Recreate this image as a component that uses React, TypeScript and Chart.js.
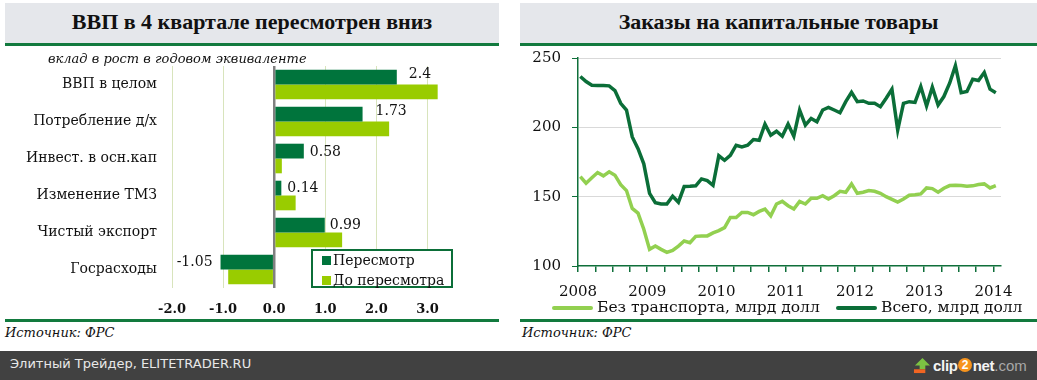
import React, { useEffect, useRef } from "react";
import { Chart, registerables } from "chart.js";

Chart.register(...registerables);

// ---------- Left chart: GDP contributions ----------
const gdpCategories = [
  "ВВП в целом",
  "Потребление д/х",
  "Инвест. в осн.кап",
  "Изменение ТМЗ",
  "Чистый экспорт",
  "Госрасходы",
];
const revisedContribution = [2.4, 1.73, 0.58, 0.14, 0.99, -1.05];
const previousContribution = [3.2, 2.25, 0.15, 0.42, 1.33, -0.9];
const revisedLabels = ["2.4", "1.73", "0.58", "0.14", "0.99", "-1.05"];
const gdpAxisTicks = [-2, -1, 0, 1, 2, 3];
const gdpSeries = ["Пересмотр", "До пересмотра"];

// ---------- Right chart: capital goods orders (monthly, Jan 2008 – Jan 2014) ----------
const orderYears = [2008, 2009, 2010, 2011, 2012, 2013, 2014];
const totalOrders = [
  236.7, 233, 230.4, 230.1, 230.1, 229.9, 226.5, 217.3, 212.5, 193.1, 184.6, 173.7,
  152.4, 145.7, 144.7, 144.7, 150.3, 146, 157.3, 157.5, 157.8, 162.8, 161.6, 158.2,
  179.5, 176.2, 179.8, 187.1, 185.8, 187.1, 191.2, 190.7, 202.3, 194.3, 197.2, 193.6,
  202.3, 193.6, 212.5, 201.6, 206.4, 204, 212.5, 214.4, 212.5, 210.5, 218.5, 225.3,
  218.5, 219, 217.3, 217.3, 214.9, 221, 227.5, 198, 217.3, 218.5, 218, 229.4,
  215.4, 229, 216.1, 222.2, 231.8, 244.4, 225, 225.8, 234.7, 233.8, 239.6, 227.5,
  225,
];
const coreOrders = [
  164.5, 159.7, 163.6, 167.4, 165, 167.9, 165.5, 158.7, 154.4, 141.5, 138.1, 126.5,
  112, 114.4, 112, 109.8, 111.3, 114.4, 118, 116.8, 121.4, 121.7, 121.7, 123.9,
  125.5, 127.7, 135, 135, 138.6, 138.6, 137, 139.4, 141.1, 136.2, 144.7, 146.6,
  143.5, 141.1, 146.6, 144.7, 148.8, 148.8, 150.7, 148.3, 150.7, 153.9, 153.2, 159.2,
  152.4, 153.2, 154.4, 153.9, 152.4, 150, 148.1, 146.1, 148.3, 151, 151.4, 152,
  156.3, 155.8, 153.2, 156.1, 158, 158.2, 158, 157.5, 157.8, 158.7, 159.2, 156.3,
  158,
];
const orderSeries = ["Без транспорта, млрд долл", "Всего, млрд долл"];
const orderAxisTicks = [100, 150, 200, 250];

// ---------- styles ----------
const BAR_DARK = "#00743c";
const BAR_LIGHT = "#99cc00";
const LINE_DARK = "#0b6e38";
const LINE_LIGHT = "#92d050";
const AXIS_GREEN = "#0f6f3a";
const SERIF = '"DejaVu Serif", serif';
const HEAD_SERIF = '"Liberation Serif", serif';
const LABEL_NUDGE: [number, number][] = [[12, -3], [13, -3], [6, 1], [6, 0], [5, 0], [8, 0]];
const POINT_OFFSET = 0.4; // months: where a monthly observation sits after its tick

function GdpChart() {
  const ref = useRef<HTMLCanvasElement | null>(null);
  useEffect(() => {
    if (!ref.current) return;
    const labelPlugin = {
      id: "barLabels",
      afterDatasetsDraw(chart: any) {
        const meta = chart.getDatasetMeta(0);
        const ctx = chart.ctx;
        ctx.save();
        ctx.font = `14px ${SERIF}`;
        ctx.fillStyle = "#111";
        ctx.textBaseline = "middle";
        meta.data.forEach((bar: any, i: number) => {
          const v = revisedContribution[i];
          const [dx, dy] = LABEL_NUDGE[i];
          if (v >= 0) {
            ctx.textAlign = "left";
            ctx.fillText(revisedLabels[i], bar.x + dx, bar.y + dy);
          } else {
            ctx.textAlign = "right";
            ctx.fillText(revisedLabels[i], bar.x - dx, bar.y + dy);
          }
        });
        ctx.restore();
      },
    };
    const chart = new Chart(ref.current, {
      type: "bar",
      data: {
        labels: gdpCategories,
        datasets: [
          { label: gdpSeries[0], data: revisedContribution, backgroundColor: BAR_DARK },
          { label: gdpSeries[1], data: previousContribution, backgroundColor: BAR_LIGHT },
        ],
      },
      options: {
        indexAxis: "y",
        responsive: false,
        animation: false,
        layout: { padding: { top: 16, right: 46, left: 0, bottom: 0 } },
        datasets: { bar: { categoryPercentage: 0.8, barPercentage: 1.0 } },
        plugins: { legend: { display: false }, tooltip: { enabled: false } },
        scales: {
          x: {
            type: "linear",
            min: -2,
            max: 3.5,
            afterBuildTicks: (s: any) => {
              s.ticks = gdpAxisTicks.map((v) => ({ value: v }));
            },
            afterFit: (s: any) => {
              s.height = 32;
              s.paddingLeft = 0;
              s.paddingRight = 0;
            },
            border: { display: false },
            grid: {
              drawTicks: false,
              color: (c: any) => (c.tick && c.tick.value === 0 ? "#808080" : "#d8e4bc"),
              lineWidth: (c: any) => (c.tick && c.tick.value === 0 ? 2.5 : 1),
            },
            ticks: {
              padding: 14,
              color: "#111",
              font: { family: SERIF, size: 13, weight: "bold" },
              callback: (v: any) => Number(v).toFixed(1),
            },
          },
          y: {
            afterFit: (s: any) => {
              s.width = 167;
              s.paddingTop = 0;
              s.paddingBottom = 0;
            },
            border: { display: false },
            grid: { display: false, drawTicks: false },
            ticks: { padding: 15, color: "#111", font: { family: SERIF, size: 14 } },
          },
        },
      },
      plugins: [labelPlugin],
    } as any);
    return () => chart.destroy();
  }, []);
  return <canvas ref={ref} width={494} height={270} style={{ position: "absolute", left: 5, top: 50 }} />;
}

function OrdersChart() {
  const ref = useRef<HTMLCanvasElement | null>(null);
  useEffect(() => {
    if (!ref.current) return;
    const toPoints = (arr: number[]) => arr.map((y, i) => ({ x: i + POINT_OFFSET, y }));
    const chart = new Chart(ref.current, {
      type: "line",
      data: {
        datasets: [
          {
            label: orderSeries[1],
            data: toPoints(totalOrders),
            borderColor: LINE_DARK,
            borderWidth: 3.5,
            pointRadius: 0,
            tension: 0,
          },
          {
            label: orderSeries[0],
            data: toPoints(coreOrders),
            borderColor: LINE_LIGHT,
            borderWidth: 3.5,
            pointRadius: 0,
            tension: 0,
          },
        ],
      },
      options: {
        responsive: false,
        animation: false,
        layout: { padding: { top: 8, right: 36, left: 0, bottom: 0 } },
        plugins: { legend: { display: false }, tooltip: { enabled: false } },
        scales: {
          x: {
            type: "linear",
            min: 0,
            max: 73.3,
            afterBuildTicks: (s: any) => {
              const t: any[] = [];
              for (let m = 0; m <= (orderYears.length - 1) * 12; m += 3) t.push({ value: m });
              s.ticks = t;
            },
            afterFit: (s: any) => {
              s.height = 36;
              s.paddingLeft = 0;
              s.paddingRight = 0;
            },
            border: { display: true, color: AXIS_GREEN, width: 1.5 },
            grid: { drawOnChartArea: false, drawTicks: true, tickLength: 6, color: AXIS_GREEN, lineWidth: 1.5 },
            ticks: {
              autoSkip: false,
              maxRotation: 0,
              padding: 11,
              color: "#111",
              font: { family: SERIF, size: 15 },
              callback: (v: any) => (Number(v) % 12 === 0 ? String(orderYears[Number(v) / 12]) : ""),
            },
          },
          y: {
            min: 100,
            max: 250,
            afterBuildTicks: (s: any) => {
              s.ticks = orderAxisTicks.map((v) => ({ value: v }));
            },
            afterFit: (s: any) => {
              s.width = 58;
              s.paddingTop = 0;
              s.paddingBottom = 0;
            },
            border: { display: true, color: AXIS_GREEN, width: 1.5 },
            grid: {
              drawTicks: true,
              tickLength: 6,
              tickColor: AXIS_GREEN,
              color: (c: any) => (c.tick && c.tick.value === 100 ? "rgba(0,0,0,0)" : "#d9d9d9"),
            },
            ticks: { padding: 11, color: "#111", font: { family: SERIF, size: 15 } },
          },
        },
      },
    } as any);
    return () => chart.destroy();
  }, []);
  return <canvas ref={ref} width={517} height={252} style={{ position: "absolute", left: 520, top: 50 }} />;
}

const headerStyle = (left: number, width: number): React.CSSProperties => ({
  position: "absolute",
  left,
  top: 3,
  width,
  height: 43,
  background: "#e5e7eb",
  borderBottom: `3px solid #127a3e`,
  display: "flex",
  alignItems: "center",
  justifyContent: "center",
  font: `bold 22px ${HEAD_SERIF}`,
  color: "#111",
  paddingBottom: 3,
  boxSizing: "border-box",
});

const abs = (s: React.CSSProperties): React.CSSProperties => ({ position: "absolute", whiteSpace: "nowrap", ...s });

export default function App() {
  return (
    <div style={{ position: "absolute", left: 0, top: 0, width: 1037, height: 380, background: "#fff", overflow: "hidden" }}>
      {/* headers */}
      <div style={headerStyle(5, 494)}>ВВП в 4 квартале пересмотрен вниз</div>
      <div style={headerStyle(520, 517)}>Заказы на капитальные товары</div>

      <GdpChart />
      <OrdersChart />

      {/* left subtitle */}
      <div style={abs({ left: 48, top: 51, font: `italic 13px ${SERIF}`, lineHeight: "16px", color: "#111" })}>
        вклад в рост в годовом эквиваленте
      </div>

      {/* left legend */}
      <div style={abs({ left: 311, top: 249, width: 138, height: 35, border: `2px solid ${LINE_DARK}`, background: "#fff" })}>
        <div style={abs({ left: 9, top: 5, width: 9, height: 9, background: BAR_DARK })} />
        <div style={abs({ left: 20, top: 0, font: `14px ${SERIF}`, lineHeight: "18px", color: "#111" })}>{gdpSeries[0]}</div>
        <div style={abs({ left: 9, top: 25, width: 9, height: 9, background: BAR_LIGHT })} />
        <div style={abs({ left: 20, top: 20, font: `14px ${SERIF}`, lineHeight: "18px", color: "#111" })}>{gdpSeries[1]}</div>
      </div>

      {/* right legend */}
      <div style={abs({ left: 552, top: 306, width: 41, height: 4, borderRadius: 2, background: LINE_LIGHT })} />
      <div style={abs({ left: 597, top: 298, font: `15.5px ${SERIF}`, lineHeight: "19px", color: "#111" })}>{orderSeries[0]}</div>
      <div style={abs({ left: 836, top: 306, width: 41, height: 4, borderRadius: 2, background: LINE_DARK })} />
      <div style={abs({ left: 881, top: 298, font: `15.5px ${SERIF}`, lineHeight: "19px", color: "#111" })}>{orderSeries[1]}</div>

      {/* footers */}
      <div style={abs({ left: 5, top: 319, width: 494, height: 3, background: "#127a3e" })} />
      <div style={abs({ left: 520, top: 319, width: 517, height: 3, background: "#127a3e" })} />
      <div style={abs({ left: 5, top: 325, font: `italic 13px ${SERIF}`, lineHeight: "16px", color: "#111" })}>Источник: ФРС</div>
      <div style={abs({ left: 522, top: 325, font: `italic 13px ${SERIF}`, lineHeight: "16px", color: "#111" })}>Источник: ФРС</div>

      {/* bottom bar */}
      <div style={abs({ left: 0, top: 351, width: 1037, height: 29, background: "#414141" })} />
      <div style={abs({ left: 10, top: 355, font: `13px "DejaVu Sans", sans-serif`, lineHeight: "18px", color: "#e8e8e8" })}>
        Элитный Трейдер, ELITETRADER.RU
      </div>
      <div style={abs({ left: 913, top: 356, height: 18, display: "flex", alignItems: "center" })}>
        <svg width="18" height="17" viewBox="0 0 19 18" style={{ marginRight: 2 }}>
          <polygon points="10,1 18,9 13,9 13,13 7,13 7,9 2,9" fill="#7cc242" />
          <rect x="1" y="13" width="12" height="4" fill="#f26522" />
        </svg>
        <span style={{ font: `bold 15px "Liberation Sans", sans-serif`, color: "#f4f4f4", letterSpacing: -0.3 }}>clip</span>
        <span
          style={{
            display: "inline-block",
            width: 14,
            height: 14,
            borderRadius: 7,
            background: "#f7941d",
            color: "#fff",
            font: `bold 12px "Liberation Sans", sans-serif`,
            lineHeight: "14px",
            textAlign: "center",
            margin: "0 0.5px",
          }}
        >
          2
        </span>
        <span style={{ font: `bold 15px "Liberation Sans", sans-serif`, color: "#f4f4f4", letterSpacing: -0.3 }}>net</span>
        <span style={{ font: `15px "Liberation Sans", sans-serif`, color: "#a8a8a8" }}>.com</span>
      </div>
    </div>
  );
}
